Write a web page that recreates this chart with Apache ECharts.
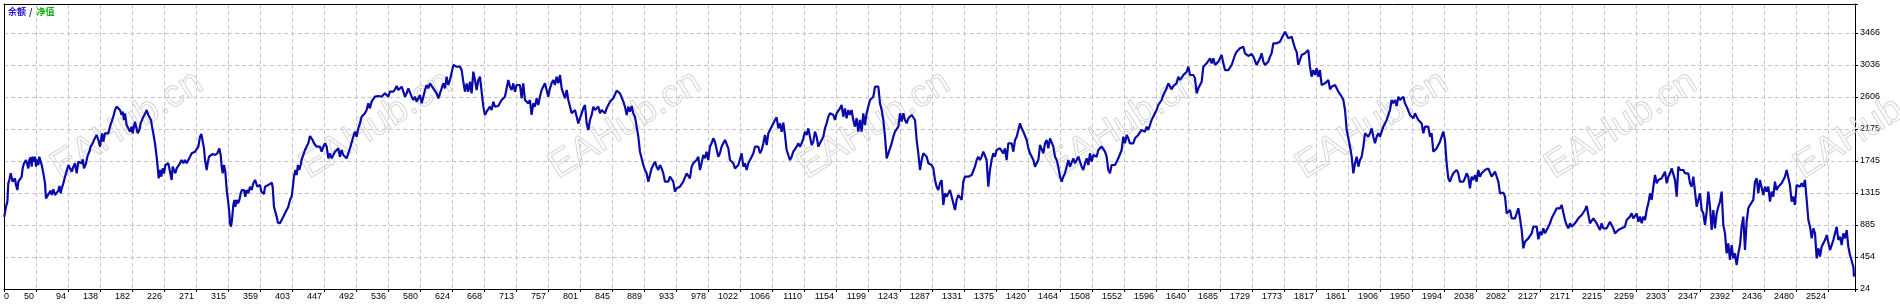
<!DOCTYPE html>
<html><head><meta charset="utf-8">
<script src="https://cdn.jsdelivr.net/npm/echarts@6/dist/echarts.min.js"></script>
<style>html,body{margin:0;padding:0;background:#fff}#c{width:1900px;height:306px}</style>
</head><body><div id="c"></div>
<script>
const xTickLabels = ['0','50','94','138','182','226','271','315','359','403','447','492','536','580','624','668','713','757','801','845','889','933','978','1022','1066','1110','1154','1199','1243','1287','1331','1375','1420','1464','1508','1552','1596','1640','1685','1729','1773','1817','1861','1906','1950','1994','2038','2082','2127','2171','2215','2259','2303','2347','2392','2436','2480','2524'];
const yTickLabels = ['24','454','885','1315','1745','2175','2606','3036','3466'];
const legendNames = ['余额', '/', '净值'];
const watermarkText = 'EAHub.cn';

// [trade number, balance]
const balancePoints = [
[6.0,997],[6.9,1005],[8.3,1131],[10.2,1198],[11.5,1445],[12.9,1490],[14.8,1579],[16.1,1602],[17.5,1467],[19.4,1490],[20.7,1512],[22.1,1422],[24.0,1355],[25.4,1467],[27.7,1467],[30.0,1534],[31.3,1646],[33.2,1714],[35.9,1758],[37.8,1767],[39.2,1646],[40.5,1758],[42.4,1794],[43.8,1669],[45.1,1803],[47.0,1736],[48.4,1803],[49.7,1669],[51.6,1767],[53.0,1691],[54.3,1803],[56.2,1826],[57.6,1691],[59.9,1579],[62.2,1445],[63.5,1243],[65.4,1230],[68.2,1319],[70.0,1346],[71.4,1288],[73.7,1364],[76.0,1288],[78.3,1274],[80.6,1346],[82.0,1409],[83.8,1310],[85.2,1377],[87.5,1445],[89.8,1534],[91.2,1579],[94.4,1691],[96.7,1669],[99.0,1602],[101.3,1669],[103.6,1714],[105.9,1579],[108.2,1736],[110.5,1758],[112.8,1714],[114.2,1767],[116.0,1646],[118.8,1714],[120.6,1803],[123.4,1870],[125.2,1938],[128.0,1983],[129.8,2027],[131.7,2005],[133.5,2095],[135.8,2027],[138.1,1938],[139.5,2027],[140.9,2117],[142.7,2005],[145.0,2117],[147.3,2139],[149.6,2117],[151.9,2207],[154.2,2274],[156.5,2341],[158.8,2431],[161.1,2476],[163.4,2498],[165.7,2431],[168.0,2364],[169.4,2408],[171.2,2296],[172.6,2386],[174.9,2229],[177.2,2184],[179.5,2139],[181.8,2207],[183.2,2117],[186.4,2274],[188.7,2296],[190.1,2117],[192.4,2162],[194.2,2251],[197.0,2319],[198.8,2341],[200.7,2386],[202.5,2431],[204.8,2364],[207.1,2386],[208.5,2296],[209.9,2207],[211.7,2117],[214.0,1983],[216.3,1803],[217.7,1669],[219.1,1512],[220.9,1624],[222.8,1534],[224.6,1646],[226.5,1579],[228.3,1691],[230.1,1669],[232.4,1714],[234.7,1691],[237.0,1490],[238.4,1669],[240.3,1691],[242.1,1579],[243.9,1646],[246.2,1669],[248.5,1714],[250.8,1758],[253.1,1714],[255.4,1758],[257.7,1714],[260.0,1758],[262.4,1803],[264.7,1848],[267.0,1839],[269.3,1870],[271.6,1893],[273.9,1938],[276.2,2072],[278.0,2108],[279.8,2095],[281.7,1915],[283.1,1758],[285.4,1624],[286.7,1714],[288.6,1803],[290.9,1826],[293.6,1839],[296.9,1826],[300.1,1848],[302.9,1915],[304.7,1826],[306.1,1669],[307.5,1579],[309.3,1691],[311.1,1602],[313.0,1355],[314.8,1221],[316.7,1041],[317.6,907],[319.0,862],[320.3,952],[322.2,1153],[323.6,1221],[324.9,1131],[326.8,1221],[328.6,1176],[330.5,1221],[332.3,1310],[334.1,1355],[336.9,1355],[338.7,1265],[340.6,1355],[342.9,1310],[345.2,1400],[347.5,1355],[349.8,1445],[352.1,1490],[353.5,1467],[355.3,1400],[357.2,1377],[359.0,1422],[360.8,1333],[362.7,1355],[364.5,1301],[365.9,1400],[368.2,1400],[370.5,1422],[372.8,1445],[375.1,1454],[376.5,1400],[378.3,1131],[380.2,1109],[382.0,997],[383.8,916],[386.6,907],[388.9,916],[391.2,997],[393.5,1041],[395.8,1086],[398.1,1131],[400.4,1221],[402.7,1265],[404.1,1377],[405.9,1534],[407.8,1624],[409.6,1557],[411.4,1691],[413.3,1624],[415.1,1691],[417.0,1781],[418.8,1826],[421.1,1893],[423.4,1893],[425.7,1983],[428.0,2081],[429.9,2072],[431.7,2027],[433.5,1983],[435.4,1960],[437.2,1938],[439.5,1915],
[441.8,1938],[444.1,1870],[446.4,1938],[448.7,1983],[451.0,1938],[453.3,1781],[455.6,1848],[457.9,1781],[460.2,1826],[462.5,1870],[464.8,1848],[467.1,1915],[469.4,1803],[471.7,1893],[474.0,1826],[476.3,1803],[478.6,1781],[480.9,1848],[483.2,1915],[485.5,1938],[487.8,2072],[490.1,2139],[492.4,2072],[494.7,2184],[497.0,2251],[499.3,2341],[501.6,2364],[503.9,2386],[506.2,2431],[508.5,2520],[510.8,2453],[513.1,2543],[515.4,2565],[517.7,2610],[520.0,2588],[522.3,2619],[524.6,2601],[526.9,2610],[529.2,2632],[531.5,2655],[533.8,2677],[536.1,2610],[538.4,2677],[540.7,2700],[543.0,2677],[545.4,2709],[547.7,2753],[550.0,2700],[552.3,2709],[554.6,2744],[556.9,2722],[559.2,2610],[561.5,2655],[563.8,2722],[566.1,2700],[568.4,2610],[570.7,2565],[573.0,2610],[575.3,2543],[577.6,2588],[579.9,2632],[582.2,2520],[584.5,2610],[586.8,2700],[589.1,2767],[591.4,2722],[593.7,2789],[596.0,2812],[598.3,2722],[600.6,2700],[602.9,2655],[605.2,2588],[607.5,2655],[609.8,2677],[612.1,2789],[614.4,2722],[616.7,2879],[619.0,2767],[621.3,2834],[623.6,2856],[625.9,3036],[628.2,3058],[630.5,3013],[632.8,2991],[635.1,3013],[637.4,2968],[639.7,2812],[642.0,2677],[644.3,2789],[646.6,2677],[648.9,2812],[651.2,2655],[653.5,2946],[655.8,2834],[658.1,2700],[660.4,2834],[662.7,2879],[665.0,2677],[667.3,2476],[669.6,2364],[671.9,2408],[674.2,2431],[676.5,2476],[678.8,2431],[681.1,2543],[683.4,2476],[685.7,2498],[688.0,2485],[690.3,2498],[692.6,2565],[694.9,2543],[697.2,2610],[699.5,2722],[701.8,2834],[704.1,2744],[706.4,2700],[708.7,2789],[711.0,2677],[713.3,2767],[715.6,2744],[717.9,2767],[720.2,2588],[722.5,2789],[724.8,2565],[727.1,2543],[729.4,2520],[731.7,2565],[734.0,2364],[736.3,2520],[738.6,2476],[740.9,2588],[743.2,2498],[745.5,2610],[747.8,2700],[750.1,2722],[752.4,2789],[754.7,2812],[757.0,2610],[759.3,2722],[761.6,2789],[763.9,2834],[766.2,2767],[768.5,2879],[770.8,2789],[773.2,2901],[775.5,2722],[777.8,2700],[780.1,2588],[782.4,2700],[784.7,2565],[787.0,2565],[789.3,2386],[791.6,2408],[793.9,2431],[796.2,2453],[798.5,2251],[800.8,2319],[803.1,2386],[805.4,2453],[807.7,2498],[810.0,2251],[812.3,2162],[814.6,2296],[816.9,2364],[819.2,2476],[821.5,2431],[823.8,2408],[826.1,2476],[828.4,2386],[830.7,2431],[833.0,2453],[835.3,2386],[837.6,2453],[839.9,2476],[842.2,2543],[844.5,2565],[846.8,2588],[849.1,2565],[851.4,2691],[853.7,2677],[856.0,2655],[858.3,2632],[860.6,2543],[862.9,2476],[865.2,2364],[867.5,2476],
[869.8,2408],[872.1,2485],[874.4,2386],[876.7,2341],[879.0,2207],[881.3,2072],[883.6,1870],[885.9,1781],[888.2,1691],[890.5,1624],[892.8,1579],[895.1,1467],[897.4,1557],[899.7,1646],[902.0,1691],[904.3,1736],[906.6,1669],[908.9,1624],[911.2,1691],[913.5,1646],[915.8,1579],[918.1,1467],[920.4,1490],[922.7,1467],[925.0,1534],[927.3,1557],[929.6,1467],[931.9,1333],[934.2,1377],[936.5,1377],[938.8,1400],[941.1,1422],[943.4,1467],[945.7,1467],[948.0,1579],[950.3,1602],[952.6,1512],[954.9,1669],[957.2,1714],[959.5,1736],[961.8,1758],[964.1,1803],[966.4,1624],[968.7,1714],[971.0,1826],[973.3,1781],[975.6,1870],[977.9,1758],[980.2,1938],[982.5,1983],[984.8,2050],[987.1,2005],[989.4,1983],[991.7,1803],[994.0,1848],[996.3,1938],[998.6,1983],[1001.0,2027],[1003.3,2050],[1005.6,1915],[1007.9,1758],[1010.2,1736],[1012.5,1714],[1014.8,1646],[1017.1,1669],[1019.4,1691],[1021.7,1714],[1024.0,1848],[1026.3,1669],[1028.6,1714],[1030.9,1624],[1033.2,1714],[1035.5,1758],[1037.8,1803],[1040.1,1848],[1042.4,1938],[1044.7,1938],[1047.0,1938],[1049.3,1848],[1051.6,1893],[1053.9,1983],[1056.2,2095],[1058.5,1960],[1060.8,2117],[1063.1,2162],[1065.4,2207],[1067.7,2229],[1070.0,2296],[1072.3,2332],[1074.6,2184],[1076.9,2251],[1079.2,2139],[1081.5,2260],[1083.8,2095],[1086.1,1893],[1088.4,1826],[1090.7,1758],[1093.0,1803],[1095.3,1870],[1097.6,1893],[1099.9,1938],[1102.2,1983],[1104.5,1938],[1106.8,1983],[1109.1,2050],[1111.4,2139],[1113.7,2095],[1116.0,2184],[1118.3,2162],[1120.6,1960],[1122.9,2005],[1125.2,2139],[1127.5,2072],[1129.8,1938],[1132.1,1983],[1134.4,2027],[1136.7,2072],[1139.0,2184],[1141.3,2251],[1143.6,2341],[1145.9,2386],[1148.2,2408],[1150.5,2364],[1152.8,2296],[1155.1,2386],[1157.4,2364],[1159.7,2453],[1162.0,2498],[1164.3,2341],[1166.6,2453],[1168.9,2319],[1171.2,2431],[1173.5,2364],[1175.8,2431],[1178.1,2296],[1180.4,2207],[1182.7,2319],[1185.0,2139],[1187.3,2296],[1189.6,2139],[1191.9,2386],[1194.2,2229],[1196.5,2386],[1198.8,2476],[1201.2,2565],[1203.5,2588],[1205.8,2610],[1208.1,2744],[1210.4,2767],[1212.7,2744],[1215.0,2520],[1217.3,2431],[1219.6,2296],[1221.9,2072],[1224.2,1781],[1226.5,1848],[1228.8,1915],[1231.1,1983],[1233.4,2072],[1235.7,2139],[1238.0,2162],[1240.3,2207],[1242.6,2386],[1244.9,2274],[1247.2,2386],[1249.5,2296],[1251.8,2251],[1254.1,2319],[1256.4,2296],[1258.7,2364],[1261.0,2386],[1263.3,2296],[1265.6,2027],[1267.9,1848],[1270.2,1624],[1272.5,1758],[1274.8,1848],[1277.1,1870],[1279.4,1803],[1281.7,1714],[1284.0,1736],[1286.3,1691],[1288.6,1646],[1290.9,1490],[1293.2,1400],[1295.5,1355],
[1297.8,1445],[1300.1,1490],[1302.4,1153],[1304.7,1310],[1307.0,1265],[1309.3,1265],[1311.6,1355],[1313.9,1377],[1316.2,1176],[1318.5,1086],[1320.8,1221],[1323.1,1288],[1325.4,1265],[1327.7,1221],[1330.0,1467],[1332.3,1534],[1334.6,1557],[1336.9,1534],[1339.2,1557],[1341.5,1557],[1343.8,1579],[1346.1,1669],[1348.4,1758],[1350.7,1803],[1353.0,1758],[1355.3,1803],[1357.6,1870],[1359.9,1848],[1362.2,1758],[1364.5,1400],[1366.8,1624],[1369.1,1758],[1371.4,1848],[1373.7,1803],[1376.0,1893],[1378.3,1870],[1380.6,1915],[1382.9,1893],[1385.2,1848],[1387.5,1915],[1389.8,1758],[1392.1,1983],[1394.4,2005],[1396.7,1983],[1399.1,1870],[1401.4,2027],[1403.7,2072],[1406.0,2095],[1408.3,2251],[1410.6,2184],[1412.9,2139],[1415.2,2162],[1417.5,2027],[1419.8,1915],[1422.1,1848],[1424.4,1870],[1426.7,1758],[1429.0,1669],[1431.3,1714],[1433.6,1758],[1435.9,1960],[1438.2,1938],[1440.5,1848],[1442.8,1983],[1445.1,2027],[1447.4,1915],[1449.7,2050],[1452.0,2072],[1454.3,1938],[1456.6,1803],[1458.9,1758],[1461.2,1669],[1463.5,1534],[1465.8,1467],[1468.1,1534],[1470.4,1579],[1472.7,1602],[1475.0,1758],[1477.3,1669],[1479.6,1691],[1481.9,1781],[1484.2,1714],[1486.5,1758],[1488.8,1803],[1491.1,1736],[1493.4,1669],[1495.7,1624],[1498.0,1714],[1500.3,1781],[1502.6,1691],[1504.9,1848],[1507.2,1736],[1509.5,1826],[1511.8,1848],[1514.1,1803],[1516.4,1893],[1518.7,1915],[1521.0,1938],[1523.3,1960],[1525.6,1870],[1527.9,1803],[1530.2,1624],[1532.5,1579],[1534.8,1691],[1537.1,1714],[1539.4,1691],[1541.7,1736],[1544.0,1781],[1546.3,1803],[1548.6,1893],[1550.9,2072],[1553.2,1983],[1555.5,2095],[1557.8,2050],[1560.1,1983],[1562.4,1960],[1564.7,1983],[1567.0,2050],[1569.3,2027],[1571.6,2095],[1573.9,2072],[1576.2,2162],[1578.5,2184],[1580.8,2139],[1583.1,2207],[1585.4,2162],[1587.7,2229],[1590.0,2296],[1592.3,2319],[1594.6,2386],[1596.9,2431],[1599.2,2498],[1601.5,2520],[1603.8,2565],[1606.1,2632],[1608.4,2677],[1610.7,2722],[1613.0,2789],[1615.3,2812],[1617.6,2709],[1619.9,2753],[1622.2,2767],[1624.5,2789],[1626.8,2879],[1629.2,2834],[1631.5,2856],[1633.8,2901],[1636.1,2915],[1638.4,2946],[1640.7,3013],[1643.0,2901],[1645.3,2924],[1647.6,2901],[1649.9,2856],[1652.2,2655],[1654.5,2722],[1656.8,2735],[1659.1,2812],[1661.4,3013],[1663.7,3036],[1666.0,3058],[1668.3,3081],[1670.6,3125],[1672.9,3058],[1675.2,3125],[1677.5,3036],[1679.8,3058],[1682.1,3081],[1684.4,3103],[1686.7,3170],[1689.0,3058],[1691.3,2968],[1693.6,2946],[1695.9,2968],[1698.2,2991],[1700.5,3036],[1702.8,3103],[1705.1,3170],[1707.4,3215],[1709.7,3237],[1712.0,3260],[1714.3,3273],[1716.6,3282],[1718.9,3193],[1721.2,3170],[1723.5,3157],
[1725.8,3157],[1728.1,3184],[1730.4,3148],[1732.7,3125],[1735.0,3036],[1737.3,3022],[1739.6,3125],[1741.9,3193],[1744.2,3081],[1746.5,3036],[1748.8,3058],[1751.1,3081],[1753.4,3148],[1755.7,3193],[1758.0,3327],[1760.3,3305],[1762.6,3327],[1764.9,3336],[1767.2,3349],[1769.5,3372],[1771.8,3439],[1774.1,3484],[1776.4,3497],[1778.7,3394],[1781.0,3394],[1783.3,3417],[1785.6,3394],[1787.9,3260],[1790.2,3215],[1792.5,3036],[1794.8,3058],[1797.1,3170],[1799.4,3170],[1801.7,3193],[1804.0,3215],[1806.3,3237],[1808.6,3013],[1810.9,2879],[1813.2,2968],[1815.5,2901],[1817.8,2991],[1820.1,2879],[1822.4,2968],[1824.7,2767],[1827.1,2744],[1829.4,2789],[1831.7,2812],[1834.0,2834],[1836.3,2709],[1838.6,2744],[1840.9,2753],[1843.2,2767],[1845.5,2722],[1847.8,2677],[1850.1,2655],[1852.4,2610],[1854.7,2565],[1857.0,2431],[1859.3,2162],[1861.6,2050],[1863.9,1938],[1866.2,1803],[1868.5,1579],[1870.8,1714],[1873.1,1803],[1875.4,1669],[1877.7,1758],[1880.0,1803],[1882.3,1938],[1884.6,2117],[1886.9,2139],[1889.2,2072],[1891.5,2117],[1893.8,2184],[1896.1,2072],[1898.4,1983],[1900.7,2072],[1903.0,2117],[1905.3,2072],[1907.6,2139],[1909.9,2207],[1912.2,2251],[1914.5,2296],[1916.8,2364],[1919.1,2431],[1921.4,2565],[1923.7,2520],[1926.0,2565],[1928.3,2485],[1930.6,2610],[1932.9,2565],[1935.2,2588],[1937.5,2610],[1939.8,2520],[1942.1,2476],[1944.4,2498],[1946.7,2364],[1949.0,2386],[1951.3,2319],[1953.6,2386],[1955.9,2364],[1958.2,2296],[1960.5,2319],[1962.8,2251],[1965.1,2117],[1967.4,2207],[1969.7,2184],[1972.0,2207],[1974.3,2072],[1976.6,2117],[1978.9,1870],[1981.2,1848],[1983.5,1915],[1985.8,1960],[1988.1,2005],[1990.4,2072],[1992.7,2139],[1995.0,2027],[1997.3,1714],[1999.6,1512],[2001.9,1467],[2004.2,1534],[2006.5,1579],[2008.8,1557],[2011.1,1624],[2013.4,1579],[2015.7,1467],[2018.0,1490],[2020.3,1467],[2022.6,1512],[2024.9,1579],[2027.2,1534],[2029.5,1377],[2031.8,1534],[2034.1,1490],[2036.4,1557],[2038.7,1467],[2041.0,1624],[2043.3,1534],[2045.6,1579],[2047.9,1557],[2050.2,1624],[2052.5,1646],[2054.8,1646],[2057.2,1624],[2059.5,1534],[2061.8,1557],[2064.1,1602],[2066.4,1579],[2068.7,1467],[2071.0,1310],[2073.3,1310],[2075.6,1319],[2077.9,1265],[2080.2,1041],[2082.5,1064],[2084.8,1086],[2087.1,974],[2089.4,952],[2091.7,974],[2094.0,1041],[2096.3,1109],[2098.6,974],[2100.9,817],[2103.2,571],[2105.5,660],[2107.8,683],[2110.1,705],[2112.4,728],[2114.7,772],[2117.0,862],[2119.3,840],[2121.6,862],[2123.9,692],[2126.2,795],[2128.5,750],[2130.8,840],[2133.1,772],[2135.4,817],[2137.7,862],[2140.0,907],[2142.3,974],[2144.6,974],[2146.9,1064],[2149.2,1109],[2151.5,1109],
[2153.8,1109],[2156.1,1153],[2158.4,1153],[2160.7,952],[2163.0,884],[2165.3,840],[2167.6,907],[2169.9,862],[2172.2,862],[2174.5,907],[2176.8,929],[2179.1,974],[2181.4,997],[2183.7,1019],[2186.0,1019],[2188.3,1086],[2190.6,1140],[2192.9,1131],[2195.2,907],[2197.5,929],[2199.8,974],[2202.1,952],[2204.4,907],[2206.7,929],[2209.0,817],[2211.3,907],[2213.6,840],[2215.9,862],[2218.2,840],[2220.5,884],[2222.8,929],[2225.1,907],[2227.4,840],[2229.7,772],[2232.0,795],[2234.3,817],[2236.6,840],[2238.9,840],[2241.2,862],[2243.5,862],[2245.8,952],[2248.1,974],[2250.4,997],[2252.7,1041],[2255.0,974],[2257.4,952],[2259.7,1041],[2262.0,929],[2264.3,997],[2266.6,907],[2268.9,997],[2271.2,952],[2273.5,1086],[2275.8,1176],[2278.1,1310],[2280.4,1221],[2282.7,1400],[2285.0,1557],[2287.3,1445],[2289.6,1490],[2291.9,1467],[2294.2,1512],[2296.5,1534],[2298.8,1602],[2301.1,1445],[2303.4,1534],[2305.7,1579],[2308.0,1646],[2310.3,1669],[2312.6,1490],[2314.9,1265],[2317.2,1669],[2319.5,1624],[2321.8,1602],[2324.1,1624],[2326.4,1579],[2328.7,1602],[2331.0,1579],[2333.3,1445],[2335.6,1400],[2337.9,1534],[2340.2,1557],[2342.5,1131],[2344.8,1109],[2347.1,1310],[2349.4,1086],[2351.7,1041],[2354.0,884],[2356.3,1064],[2358.6,1333],[2360.9,1131],[2363.2,817],[2365.5,1086],[2367.8,840],[2370.1,1041],[2372.4,1131],[2374.7,1198],[2377.0,1333],[2379.3,884],[2381.6,772],[2383.9,503],[2386.2,638],[2388.5,414],[2390.8,615],[2393.1,436],[2395.4,503],[2397.7,347],[2400.0,503],[2402.3,615],[2404.6,862],[2406.9,997],[2409.2,548],[2411.5,929],[2413.8,1109],[2416.1,1153],[2418.4,1131],[2420.7,1221],[2423.0,1467],[2425.3,1512],[2427.6,1310],[2429.9,1490],[2432.2,1512],[2434.5,1288],[2436.8,1400],[2439.1,1333],[2441.4,1400],[2443.7,1198],[2446.0,1333],[2448.3,1265],[2450.6,1467],[2452.9,1355],[2455.2,1400],[2457.5,1422],[2459.8,1445],[2462.1,1490],[2464.4,1534],[2466.7,1624],[2469.0,1646],[2471.3,1422],[2473.6,1198],[2475.9,1265],[2478.2,1153],[2480.5,1422],[2482.8,1400],[2485.1,1400],[2487.4,1445],[2489.7,1400],[2492.0,1490],[2494.4,1221],[2496.7,952],[2499.0,862],[2501.3,705],[2503.6,840],[2505.9,772],[2508.2,436],[2510.5,571],[2512.8,459],[2515.1,593],[2517.4,638],[2519.7,683],[2522.0,750],[2524.3,728],[2526.6,548],[2528.9,615],[2531.2,683],[2533.5,772],[2535.8,862],[2538.1,683],[2540.4,728],[2542.7,615],[2545.0,772],[2547.3,705],[2549.6,817],[2551.9,593],[2554.2,481],[2556.5,468],[2558.8,324],[2559.7,190]
];

// layout (pixels)
const G = {left: 4, top: 4, right: 45, bottom: 17};
const plotW = 1900 - G.left - G.right;   // 1851
const plotH = 306 - G.top - G.bottom;    // 285
const cell = 32;                          // grid cell size in px
const tradePerCell = 44.18, tradeAtLeft = 5.56;
const balPerCell = 430.25, balAtBottom = 24;

const chart = echarts.init(document.getElementById('c'), null, {renderer: 'canvas'});

const axisFont = {fontSize: 9, fontFamily: '"Liberation Sans", Arial, sans-serif', color: '#000'};
const dashed = {show: true, lineStyle: {color: '#c6c6c6', width: 1, type: [4, 3]}};

const wm = [];
for (let k = 0; k < 8; k++) {
  wm.push({
    type: 'text', x: 127 + 249 * k, y: 125, rotation: 32 * Math.PI / 180, z: 1, silent: true,
    style: {text: watermarkText, font: '38px "Liberation Sans", Arial, sans-serif',
      fill: 'rgba(255,255,255,0)', stroke: '#d6d6d6', lineWidth: 1,
      textAlign: 'center', textVerticalAlign: 'middle', align: 'center', verticalAlign: 'middle'}
  });
}

chart.setOption({
  animation: false,
  backgroundColor: '#fff',
  title: {
    left: 8, top: 7, padding: 0,
    text: '{a|' + legendNames[0] + '}{s|' + legendNames[1] + '}{b|' + legendNames[2] + '}',
    textStyle: {
      rich: {
        a: {color: '#2a1ad0', fontSize: 9, fontFamily: '"Noto Sans CJK SC"'},
        s: {color: '#1a1a60', fontSize: 9, fontFamily: '"Noto Sans CJK SC"', padding: [0, 4, 0, 3]},
        b: {color: '#10b010', fontSize: 9, fontFamily: '"Noto Sans CJK SC"'}
      }
    }
  },
  graphic: {elements: wm},
  grid: {left: G.left, top: G.top, right: G.right, bottom: G.bottom, containLabel: false},
  xAxis: [
    { // data axis (trade numbers)
      type: 'value', position: 'top',
      min: tradeAtLeft, max: tradeAtLeft + plotW / cell * tradePerCell,
      axisLine: {show: true, onZero: false, lineStyle: {color: '#000', width: 1}},
      axisTick: {show: false}, axisLabel: {show: false}, splitLine: {show: false}
    },
    { // grid / label axis
      type: 'value', position: 'bottom', min: 0, max: plotW / cell, interval: 1,
      axisLine: {show: true, onZero: false, lineStyle: {color: '#000', width: 1}},
      axisTick: {show: true, inside: false, length: 3, lineStyle: {color: '#000'}},
      axisLabel: Object.assign({
        margin: 3, align: 'right', alignMinLabel: 'left', padding: [0, 2, 0, 0],
        formatter: v => (xTickLabels[v] !== undefined ? xTickLabels[v] : '')
      }, axisFont),
      splitLine: dashed
    }
  ],
  yAxis: [
    { // data axis (balance)
      type: 'value', position: 'left',
      min: balAtBottom, max: balAtBottom + plotH / cell * balPerCell,
      axisLine: {show: true, onZero: false, lineStyle: {color: '#000', width: 1}},
      axisTick: {show: false}, axisLabel: {show: false}, splitLine: {show: false}
    },
    { // grid / label axis
      type: 'value', position: 'right', min: 0, max: plotH / cell, interval: 1,
      axisLine: {show: true, onZero: false, lineStyle: {color: '#000', width: 1}},
      axisTick: {show: true, inside: false, length: 3, lineStyle: {color: '#000'}},
      axisLabel: Object.assign({
        margin: 5,
        formatter: v => (yTickLabels[v] !== undefined ? yTickLabels[v] : '')
      }, axisFont),
      splitLine: dashed
    }
  ],
  series: [{
    type: 'line', xAxisIndex: 0, yAxisIndex: 0, z: 5,
    data: balancePoints, showSymbol: false, symbol: 'none', silent: true,
    lineStyle: {color: '#0a0aaa', width: 2.2}, clip: true
  }]
});
</script>
</body></html>
